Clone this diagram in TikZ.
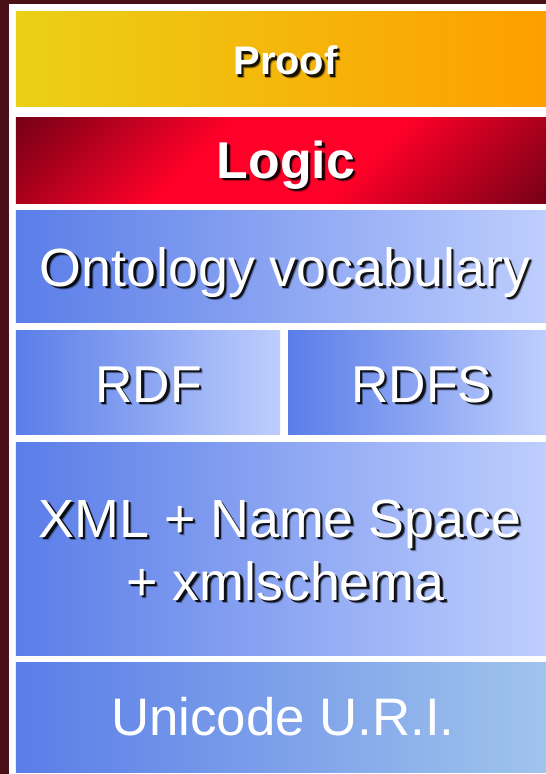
\documentclass[tikz,border=0pt]{standalone}
\usepackage{fontspec}
\setmainfont{Liberation Sans}
\definecolor{bgmaroon}{RGB}{74,16,24}
\definecolor{pfL}{RGB}{235,208,22}
\definecolor{pfR}{RGB}{254,158,0}
\definecolor{lgdark}{RGB}{120,0,22}
\definecolor{lgred}{RGB}{255,0,40}
\definecolor{blL}{RGB}{90,125,232}
\definecolor{blR}{RGB}{190,206,253}
\definecolor{ucR}{RGB}{160,196,236}
\pgfdeclareverticalshading{logicshade}{100bp}{color(0bp)=(lgdark); color(15bp)=(lgdark); color(40bp)=(lgred); color(60bp)=(lgred); color(85bp)=(lgdark); color(100bp)=(lgdark)}
\begin{document}
\begin{tikzpicture}[x=1bp,y=-1bp,
  layer/.style={inner sep=0pt, outer sep=0pt, draw=none},
  bluebox/.style={layer, shade, left color=blL, right color=blR},
  big/.style={font=\fontsize{52}{62}\selectfont, inner sep=0pt, anchor=base},
  bigger/.style={font=\fontsize{54}{64}\selectfont, inner sep=0pt, anchor=base},
  uni/.style={font=\fontsize{53}{63}\selectfont, inner sep=0pt, anchor=base},
  bigbold/.style={font=\fontsize{52}{62}\selectfont\bfseries, inner sep=0pt, anchor=base},
  proofbold/.style={font=\fontsize{40}{48}\selectfont\bfseries, inner sep=0pt, anchor=base},
  fg/.style={text=white},
  shd/.style={text=black, text opacity=0.85},
  shd2/.style={text=black, text opacity=0.3}
]
\useasboundingbox (0,0) rectangle (546,774);
\fill[bgmaroon] (0,0) rectangle (546,774);
\fill[white] (9,4) rectangle (546,774);
% layers
\node[layer, shade, left color=pfL, right color=pfR, minimum width=530bp, minimum height=94bp] (proof) at (281,59) {};
\node[layer, shade, shading=logicshade, shading angle=45, minimum width=530bp, minimum height=86bp] (logic) at (281,160) {};
\node[bluebox, minimum width=530bp, minimum height=112bp] (onto) at (281,266) {};
\node[bluebox, minimum width=264bp, minimum height=104bp] (rdf) at (148,382) {};
\node[bluebox, minimum width=258bp, minimum height=104bp] (rdfs) at (417,382) {};
\node[bluebox, minimum width=530bp, minimum height=213bp] (xml) at (281,548.5) {};
\node[layer, shade, left color=blL, right color=ucR, minimum width=530bp, minimum height=110bp] (uni) at (281,717) {};
% texts with shadows
\node[proofbold, shd2] (proofS2) at (289,78.5) {Proof};
\node[proofbold, shd] (proofS) at (288,77.5) {Proof};
\node[proofbold, fg] (proofT) at (285.5,75) {Proof};
\node[bigbold, shd2] (logicS2) at (289.5,181.5) {Logic};
\node[bigbold, shd] (logicS) at (288.5,180.5) {Logic};
\node[bigbold, fg] (logicT) at (286,178) {Logic};
\node[bigger, shd2] (ontoS2) at (288.5,289.5) {Ontology vocabulary};
\node[bigger, shd] (ontoS) at (287.5,288.5) {Ontology vocabulary};
\node[bigger, fg] (ontoT) at (285,286) {Ontology vocabulary};
\node[big, shd2] (rdfS2) at (152,405.5) {RDF};
\node[big, shd] (rdfS) at (151,404.5) {RDF};
\node[big, fg] (rdfT) at (148.5,402) {RDF};
\node[big, shd2] (rdfsS2) at (425.5,405.5) {RDFS};
\node[big, shd] (rdfsS) at (424.5,404.5) {RDFS};
\node[big, fg] (rdfsT) at (422,402) {RDFS};
\node[bigger, shd2] (xmlaS2) at (283.5,540.5) {XML + Name Space};
\node[bigger, shd] (xmlaS) at (282.5,539.5) {XML + Name Space};
\node[bigger, fg] (xmlaT) at (280,537) {XML + Name Space};
\node[bigger, shd2] (xmlbS2) at (289,603.5) {+ xmlschema};
\node[bigger, shd] (xmlbS) at (288,602.5) {+ xmlschema};
\node[bigger, fg] (xmlbT) at (285.5,600) {+ xmlschema};
\node[uni, fg] (uniT) at (283,735) {Unicode U.R.I.};
\end{tikzpicture}
\end{document}
